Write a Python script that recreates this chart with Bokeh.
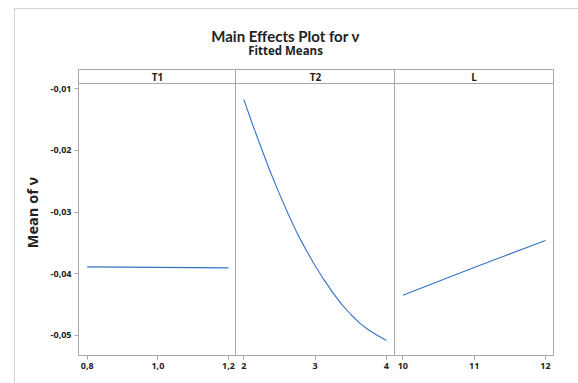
from bokeh.plotting import figure
from bokeh.layouts import row, column
from bokeh.models import Range1d, FixedTicker, Span, Label, InlineStyleSheet
from bokeh.embed import file_html
from bokeh.resources import INLINE

# ---- data ----
t1_x = [0.8, 0.9, 1.0, 1.1, 1.2]
t1_y = [-0.03888, -0.03892, -0.03896, -0.03900, -0.03905]

t2_x = [2.0, 2.125, 2.25, 2.375, 2.5, 2.625, 2.75, 2.875, 3.0,
        3.125, 3.25, 3.375, 3.5, 3.625, 3.75, 3.875, 4.0]
t2_y = [-0.0118, -0.0159, -0.0198, -0.0236, -0.0271, -0.0304, -0.0335, -0.0362, -0.0387,
        -0.0410, -0.0431, -0.0450, -0.0466, -0.0480, -0.0491, -0.0500, -0.0508]

l_x = [10, 11, 12]
l_y = [-0.0435, -0.0390, -0.0346]

panel_names = ["T1", "T2", "L"]

y_ticks = [-0.05, -0.04, -0.03, -0.02, -0.01]
y_tick_labels = ["-0,05", "-0,04", "-0,03", "-0,02", "-0,01"]

t1_ticks = [0.8, 1.0, 1.2]
t1_tick_labels = ["0,8", "1,0", "1,2"]
t2_ticks = [2, 3, 4]
t2_tick_labels = ["2", "3", "4"]
l_ticks = [10, 11, 12]
l_tick_labels = ["10", "11", "12"]

title_text = "Main Effects Plot for \u03bd"
subtitle_text = "Fitted Means"
y_label = "Mean of \u03bd"

# ---- style ----
FONT = "Open Sans"
TITLE_FONT = "Lato"
LINE = "#3473c4"
BORDER = "#a6a6a6"
TXT = "#222222"

y_lo, y_hi = -0.05324, -0.00692
panel_top = -0.00919

def panel(xs, ys, x_lo, x_hi, ticks, tick_labels, name, width, mbl, mbr, with_y):
    p = figure(width=width, height=314, output_backend="svg", toolbar_location=None,
               x_range=Range1d(x_lo, x_hi), y_range=Range1d(y_lo, y_hi),
               x_axis_location="below", y_axis_location="left" if with_y else None,
               min_border_left=mbl, min_border_right=mbr, min_border_top=0,
               min_border_bottom=28, title=None)
    p.grid.visible = False
    p.outline_line_color = BORDER
    p.outline_line_width = 1
    p.background_fill_color = "white"
    p.border_fill_color = "white"
    axes = [p.xaxis[0]] + ([p.yaxis[0]] if with_y else [])
    for ax in axes:
        ax.axis_line_color = None
        ax.major_tick_line_color = BORDER
        ax.major_tick_in = 0
        ax.major_tick_out = 4
        ax.minor_tick_line_color = None
        ax.major_label_text_font = FONT
        ax.major_label_text_font_style = "bold"
        ax.major_label_text_font_size = "9px"
        ax.major_label_text_color = TXT
        ax.major_label_standoff = 3
    p.xaxis.ticker = FixedTicker(ticks=ticks)
    p.xaxis.major_label_overrides = dict(zip(ticks, tick_labels))
    if with_y:
        p.yaxis.ticker = FixedTicker(ticks=y_ticks)
        p.yaxis.major_label_overrides = dict(zip(y_ticks, y_tick_labels))
        p.yaxis.axis_label = y_label
        p.yaxis.axis_label_text_font = FONT
        p.yaxis.axis_label_text_font_style = "bold"
        p.yaxis.axis_label_text_font_size = "14.5px"
        p.yaxis.axis_label_text_color = TXT
        p.yaxis.axis_label_standoff = 6
    p.add_layout(Span(location=panel_top, dimension="width", line_color=BORDER, line_width=1))
    p.add_layout(Label(x=(x_lo + x_hi) / 2, y=(panel_top + y_hi) / 2, text=name,
                       text_align="center", text_baseline="middle", text_font=FONT,
                       text_font_style="bold", text_font_size="10px", text_color=TXT))
    p.line(xs, ys, line_color=LINE, line_width=1.1)
    return p

p1 = panel(t1_x, t1_y, 0.7753, 1.2227, t1_ticks, t1_tick_labels, panel_names[0], 221, 63, 0, True)
p2 = panel(t2_x, t2_y, 1.883, 4.127, t2_ticks, t2_tick_labels, panel_names[1], 160, 0, 0, False)
p3 = panel(l_x, l_y, 9.883, 12.113, l_ticks, l_tick_labels, panel_names[2], 184, 0, 25, False)
p2.margin = (0, 0, 0, -1)
p3.margin = (0, 0, 0, -1)

head = figure(width=563, height=60, output_backend="svg", toolbar_location=None,
              x_range=Range1d(0, 1), y_range=Range1d(0, 1),
              x_axis_location=None, y_axis_location=None, title=None,
              min_border_left=0, min_border_right=0, min_border_top=0, min_border_bottom=0)
head.grid.visible = False
head.outline_line_color = None
head.add_layout(Label(x=270, y=34, x_units="screen", y_units="screen", text=title_text,
                      text_align="center", text_baseline="middle", text_font=TITLE_FONT,
                      text_font_style="bold", text_font_size="15px", text_color=TXT))
head.add_layout(Label(x=270, y=19, x_units="screen", y_units="screen", text=subtitle_text,
                      text_align="center", text_baseline="middle", text_font=FONT,
                      text_font_style="bold", text_font_size="11.5px", text_color=TXT))

root = column(head, row(p1, p2, p3), margin=(8, 0, 0, 14))
root.stylesheets = [InlineStyleSheet(css=":host { border-left: 1px solid #d2d2d2; border-top: 1px solid #d2d2d2; }")]

open("out.html", "w").write(file_html(root, INLINE))
